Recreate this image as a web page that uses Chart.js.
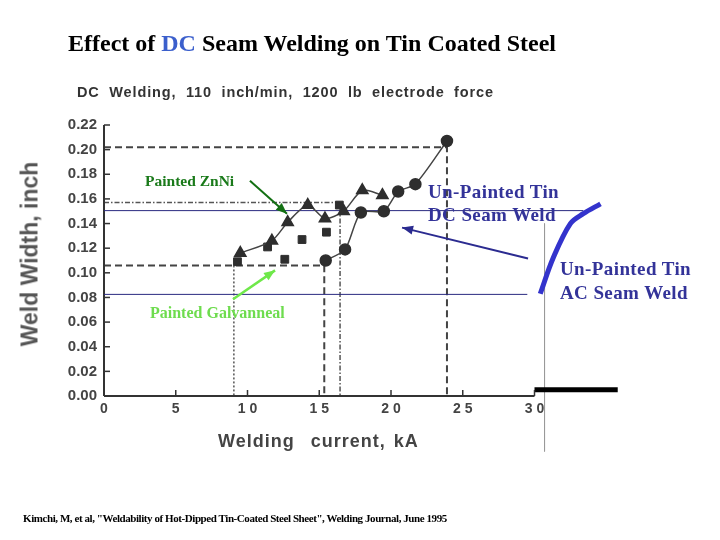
<!DOCTYPE html>
<html><head><meta charset="utf-8">
<script src="https://cdn.jsdelivr.net/npm/chart.js@4.4.1/dist/chart.umd.min.js"></script>
<style>
html,body{margin:0;padding:0;background:#fff;}
#wrap{position:relative;width:720px;height:540px;overflow:hidden;}
#c{position:absolute;left:0;top:0;}
.t{position:absolute;white-space:nowrap;line-height:1;}
.serif{font-family:"Liberation Serif","Times New Roman",serif;font-weight:bold;}
.sans{font-family:"Liberation Sans",Arial,sans-serif;font-weight:bold;}
</style></head><body>
<div id="wrap">
<canvas id="c" width="720" height="540"></canvas>
<div class="t serif" style="left:68px;top:31px;font-size:24px;color:#000">Effect of <span style="color:#3b5fcc">DC</span> Seam Welding on Tin Coated Steel</div>
<div class="t sans" style="left:77px;top:85px;font-size:14.5px;color:#333;letter-spacing:0.9px;word-spacing:4.5px">DC Welding, 110 inch/min, 1200 lb electrode force</div>
<div class="t sans" style="left:30px;top:254px;font-size:23px;color:#555;transform:translate(-50%,-50%) rotate(-90deg)">Weld Width, inch</div>
<div class="t sans" style="left:218px;top:432px;font-size:18px;color:#444;letter-spacing:1px;word-spacing:2px">Welding&nbsp; current, kA</div>
<div class="t serif" style="left:145px;top:173px;font-size:15.5px;color:#1a7a1a">Painted ZnNi</div>
<div class="t serif" style="left:150px;top:305px;font-size:16px;color:#6edc4e">Painted Galvanneal</div>
<div class="t serif" style="left:428px;top:182px;font-size:19px;color:#333399;letter-spacing:0.4px">Un-Painted Tin</div>
<div class="t serif" style="left:428px;top:205px;font-size:19px;color:#333399;letter-spacing:0.4px">DC Seam Weld</div>
<div class="t serif" style="left:560px;top:259px;font-size:19px;color:#333399;letter-spacing:0.4px">Un-Painted Tin</div>
<div class="t serif" style="left:560px;top:283px;font-size:19px;color:#333399;letter-spacing:0.4px">AC Seam Weld</div>
<div class="t serif" style="left:23px;top:513px;font-size:11px;color:#000;letter-spacing:-0.43px">Kimchi, M, et al, "Weldability of Hot-Dipped Tin-Coated Steel Sheet", Welding Journal, June 1995</div>
</div>
<script>
// ---- tick labels ----
const xTickValues = [0, 5, 10, 15, 20, 25, 30];
const xTickLabels = ['0', '5', '1 0', '1 5', '2 0', '2 5', '3 0'];
const yTickValues = [0, 0.02, 0.04, 0.06, 0.08, 0.10, 0.12, 0.14, 0.16, 0.18, 0.20, 0.22];
const yTickLabels = ['0.00','0.02','0.04','0.06','0.08','0.10','0.12','0.14','0.16','0.18','0.20','0.22'];

// ---- Painted ZnNi (triangles) ----
const znniCurrent = [9.5, 11.7, 12.8, 14.2, 15.4, 16.7, 18.0, 19.4];
const znniWidth   = [0.116, 0.126, 0.141, 0.155, 0.144, 0.150, 0.167, 0.163];
// ---- Painted Galvanneal (squares) ----
const galvCurrent = [9.3, 11.4, 12.6, 13.8, 15.5, 16.4];
const galvWidth   = [0.109, 0.121, 0.111, 0.127, 0.133, 0.155];
// ---- Un-painted tin, DC (circles) ----
const tinDcCurrent = [15.45, 16.8, 17.9, 19.5, 20.5, 21.7, 23.9];
const tinDcWidth   = [0.110, 0.119, 0.149, 0.150, 0.166, 0.172, 0.207];
// ---- Un-painted tin, AC (overlay curve) ----
const tinAcCurrent = [30.4, 31.3, 32.5, 33.4, 34.6];
const tinAcWidth   = [0.083, 0.112, 0.140, 0.148, 0.156];

// ---- weldability window guides ----
const tinDcWindowX = [0, 23.9, 23.9];
const tinDcWindowY = [0.202, 0.202, 0];
const lowerWindowX = [0, 15.35, 15.35];
const lowerWindowY = [0.106, 0.106, 0];
const znniWindowX  = [0, 16.45, 16.45];
const znniWindowY  = [0.157, 0.157, 0];
const galvStartX   = [9.05, 9.05];
const galvStartY   = [0.106, 0];

// ---- reference levels ----
const dcLevelX = [0, 33.4];
const dcLevelY = [0.1505, 0.1505];
const acLevelX = [0, 29.5];
const acLevelY = [0.0825, 0.0825];

// ---- annotation arrows (tail, head) ----
const znniArrowX = [10.17, 12.75];
const znniArrowY = [0.1748, 0.148];
const galvArrowX = [8.99, 11.92];
const galvArrowY = [0.0785, 0.102];
const dcArrowX   = [29.55, 20.77];
const dcArrowY   = [0.1117, 0.1367];

// ---- axes & page marks ----
const xAxisX = [0, 30];
const xAxisY = [0, 0];
const yAxisX = [0, 0];
const yAxisY = [0, 0.22];
const barX = [30.0, 35.8];
const barY = [0.005, 0.005];
const edgeX = [30.7, 30.7];
const edgeY = [0.14, -0.045];

const pts = (xs, ys) => xs.map((x, i) => ({x: x, y: ys[i]}));

function lineDs(xs, ys, color, width, dash, order, extra) {
  return Object.assign({
    data: pts(xs, ys), showLine: true, borderColor: color, backgroundColor: color,
    borderWidth: width, borderDash: dash || [], pointRadius: 0, pointHoverRadius: 0,
    fill: false, tension: 0, order: order, clip: false
  }, extra || {});
}

const markColor = '#2e2e2e';
const datasets = [
  { data: pts(znniCurrent, znniWidth), showLine: true, borderColor: '#444', borderWidth: 1.5,
    backgroundColor: markColor, pointBackgroundColor: markColor, pointBorderColor: markColor,
    pointStyle: 'triangle', pointRadius: 6.5, tension: 0.25, order: 1, clip: false },
  { data: pts(galvCurrent, galvWidth), showLine: false,
    backgroundColor: markColor, pointBackgroundColor: markColor, pointBorderColor: markColor,
    pointStyle: 'rect', pointRadius: 5.5, order: 1, clip: false },
  { data: pts(tinDcCurrent, tinDcWidth), showLine: true, borderColor: '#444', borderWidth: 1.5,
    backgroundColor: markColor, pointBackgroundColor: markColor, pointBorderColor: markColor,
    pointStyle: 'circle', pointRadius: 5.5, tension: 0.25, order: 1, clip: false },
  lineDs(tinDcWindowX, tinDcWindowY, '#444', 2, [7, 4], 6),
  lineDs(lowerWindowX, lowerWindowY, '#444', 2, [7, 4], 6),
  lineDs(znniWindowX, znniWindowY, '#555', 1.5, [5, 2, 1.5, 2], 6),
  lineDs(galvStartX, galvStartY, '#555', 1.5, [2, 2], 6),
  lineDs(dcLevelX, dcLevelY, '#2a2a80', 1, [], 4),
  lineDs(acLevelX, acLevelY, '#2a2a80', 1, [], 4),
  lineDs(znniArrowX, znniArrowY, '#137013', 2, [], 3, {arrowHead: true}),
  lineDs(galvArrowX, galvArrowY, '#6fe84a', 2.5, [], 3, {arrowHead: true}),
  lineDs(dcArrowX, dcArrowY, '#2b2b90', 2, [], 3, {arrowHead: true}),
  lineDs(tinAcCurrent, tinAcWidth, '#3333cc', 5, [], 3, {tension: 0.35, borderCapStyle: 'butt'}),
  lineDs(xAxisX, xAxisY, '#333', 2, [], 5),
  lineDs(yAxisX, yAxisY, '#333', 2, [], 5),
  lineDs(barX, barY, '#000', 5, [], 5),
  lineDs(edgeX, edgeY, '#999', 1, [], 7)
];

const decorPlugin = {
  id: 'decor',
  afterDatasetsDraw(chart) {
    const ctx = chart.ctx, xs = chart.scales.x, ys = chart.scales.y;
    ctx.save();
    ctx.strokeStyle = '#333'; ctx.lineWidth = 1.5;
    const x0 = xs.getPixelForValue(0), y0 = ys.getPixelForValue(0);
    yTickValues.forEach(v => {
      if (v === 0) return;
      const py = ys.getPixelForValue(v);
      ctx.beginPath(); ctx.moveTo(x0, py); ctx.lineTo(x0 + 6, py); ctx.stroke();
    });
    xTickValues.forEach(v => {
      if (v === 0) return;
      const px = xs.getPixelForValue(v);
      ctx.beginPath(); ctx.moveTo(px, y0); ctx.lineTo(px, y0 - 6); ctx.stroke();
    });
    chart.data.datasets.forEach((ds, i) => {
      if (!ds.arrowHead) return;
      const el = chart.getDatasetMeta(i).data;
      const a = el[el.length - 2], b = el[el.length - 1];
      const ang = Math.atan2(b.y - a.y, b.x - a.x);
      const L = 11, W = 4.5;
      ctx.fillStyle = ds.borderColor;
      ctx.beginPath();
      ctx.moveTo(b.x, b.y);
      ctx.lineTo(b.x - L * Math.cos(ang) + W * Math.sin(ang), b.y - L * Math.sin(ang) - W * Math.cos(ang));
      ctx.lineTo(b.x - L * Math.cos(ang) - W * Math.sin(ang), b.y - L * Math.sin(ang) + W * Math.cos(ang));
      ctx.closePath(); ctx.fill();
    });
    ctx.restore();
  }
};

new Chart(document.getElementById('c'), {
  type: 'scatter',
  data: { datasets: datasets },
  options: {
    responsive: false, animation: false, devicePixelRatio: 1,
    layout: { padding: { left: 0, right: 42, top: 125, bottom: 114 } },
    plugins: { legend: { display: false }, tooltip: { enabled: false } },
    scales: {
      x: {
        type: 'linear', min: 0, max: 40,
        grid: { display: false, drawTicks: false }, border: { display: false },
        afterBuildTicks: s => { s.ticks = xTickValues.map(v => ({value: v})); },
        afterFit: s => { s.height = 30; s.paddingLeft = 0; s.paddingRight = 0; },
        ticks: { autoSkip: false, maxRotation: 0, padding: 5, color: '#444',
          font: { family: 'Liberation Sans, Arial, sans-serif', size: 14, weight: 'bold' },
          callback: v => xTickLabels[xTickValues.indexOf(v)] }
      },
      y: {
        type: 'linear', min: 0, max: 0.22,
        grid: { display: false, drawTicks: false }, border: { display: false },
        afterBuildTicks: s => { s.ticks = yTickValues.map(v => ({value: v})); },
        afterFit: s => { s.width = 104; s.paddingTop = 0; s.paddingBottom = 0; },
        ticks: { autoSkip: false, padding: 7, color: '#444',
          font: { family: 'Liberation Sans, Arial, sans-serif', size: 15, weight: 'bold' },
          callback: v => yTickLabels[yTickValues.indexOf(v)] }
      }
    }
  },
  plugins: [decorPlugin]
});
</script>
</body></html>
